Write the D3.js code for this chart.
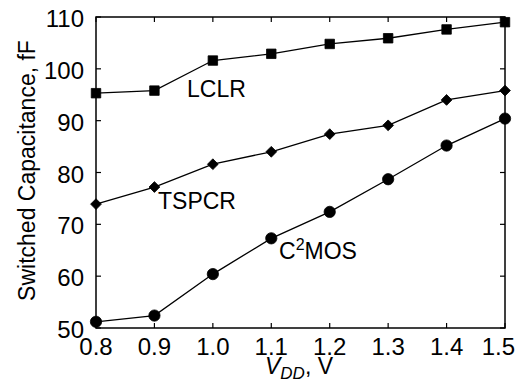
<!DOCTYPE html>
<html>
<head>
<meta charset="utf-8">
<script src="https://cdn.jsdelivr.net/npm/d3@7"></script>
<style>
  body { margin: 0; background: #fff; }
  svg text { font-family: "Liberation Sans", Arial, Helvetica, sans-serif; fill: #000; }
</style>
</head>
<body>
<div id="chart"></div>
<script>
// supply voltages (V)
const vdd = [0.8, 0.9, 1.0, 1.1, 1.2, 1.3, 1.4, 1.5];
// switched capacitance, fF
const lclr = [95.3, 95.8, 101.6, 102.9, 104.8, 105.9, 107.6, 109.0];
const tspcr = [73.9, 77.2, 81.6, 84.0, 87.4, 89.1, 94.0, 95.8];
const c2mos = [51.2, 52.4, 60.4, 67.3, 72.4, 78.7, 85.2, 90.4];
const xTicks = [0.8, 0.9, 1.0, 1.1, 1.2, 1.3, 1.4, 1.5];
const yTicks = [50, 60, 70, 80, 90, 100, 110];

const width = 520, height = 381;
const margin = {left: 96, right: 15, top: 17, bottom: 53};
const fontSize = 23;
const tickFont = 24;

const svg = d3.select("#chart").append("svg")
    .attr("width", width)
    .attr("height", height);

const x = d3.scaleLinear().domain([0.8, 1.5]).range([margin.left, width - margin.right]);
const y = d3.scaleLinear().domain([50, 110]).range([height - margin.bottom, margin.top]);

const x0 = x.range()[0], x1 = x.range()[1];
const y0 = y.range()[0], y1 = y.range()[1];
const tickLen = 5;

// inward ticks on all four sides
const ticks = svg.append("g").attr("stroke", "#000").attr("stroke-width", 1.2);
xTicks.forEach(t => {
    ticks.append("line").attr("x1", x(t)).attr("x2", x(t)).attr("y1", y0).attr("y2", y0 - tickLen);
    ticks.append("line").attr("x1", x(t)).attr("x2", x(t)).attr("y1", y1).attr("y2", y1 + tickLen);
});
yTicks.forEach(t => {
    ticks.append("line").attr("x1", x0).attr("x2", x0 + tickLen).attr("y1", y(t)).attr("y2", y(t));
    ticks.append("line").attr("x1", x1).attr("x2", x1 - tickLen).attr("y1", y(t)).attr("y2", y(t));
});

// frame
svg.append("rect")
    .attr("x", x0).attr("y", y1)
    .attr("width", x1 - x0).attr("height", y0 - y1)
    .attr("fill", "none").attr("stroke", "#000").attr("stroke-width", 1.5);

// tick labels (last one pulled in so it stays on the page)
const lastX = xTicks[xTicks.length - 1];
svg.append("g").selectAll("text").data(xTicks).join("text")
    .attr("x", d => d === lastX ? width - 5 : x(d)).attr("y", y0 + 27)
    .attr("text-anchor", d => d === lastX ? "end" : "middle")
    .attr("font-size", tickFont)
    .text(d => d.toFixed(1));

svg.append("g").selectAll("text").data(yTicks).join("text")
    .attr("x", x0 - 12).attr("y", d => y(d) + 10)
    .attr("text-anchor", "end")
    .attr("font-size", tickFont)
    .text(d => d);

// axis titles
svg.append("text")
    .attr("transform", `translate(35,${(y0 + y1) / 2 - 2}) rotate(-90)`)
    .attr("text-anchor", "middle")
    .attr("font-size", fontSize)
    .text("Switched Capacitance, fF");

const xt = svg.append("text")
    .attr("x", 265).attr("y", 374)
    .attr("font-size", fontSize);
xt.append("tspan").attr("font-style", "italic").text("V");
xt.append("tspan").attr("font-style", "italic").attr("font-size", 17).attr("dy", 5).text("DD");
xt.append("tspan").attr("dy", -5).text(", V");

// series
const series = [
    {name: "LCLR", values: lclr, marker: d3.symbolSquare, size: 90, rot: 0},
    {name: "TSPCR", values: tspcr, marker: d3.symbolSquare, size: 58, rot: 45},
    {name: "C2MOS", values: c2mos, marker: d3.symbolCircle, size: 100, rot: 0}
];

const line = d3.line().x((d, i) => x(vdd[i])).y(d => y(d));

series.forEach(s => {
    svg.append("path")
        .attr("d", line(s.values))
        .attr("fill", "none")
        .attr("stroke", "#000")
        .attr("stroke-width", 1.3);
    svg.append("g").selectAll("path").data(s.values).join("path")
        .attr("transform", (d, i) => `translate(${x(vdd[i])},${y(d)}) rotate(${s.rot})`)
        .attr("d", d3.symbol().type(s.marker).size(s.size)())
        .attr("fill", "#000")
        .attr("stroke", "#000")
        .attr("stroke-width", 0.8);
});

// series labels
svg.append("text").attr("x", 187).attr("y", 97).attr("font-size", fontSize).text("LCLR");
svg.append("text").attr("x", 158).attr("y", 209).attr("font-size", fontSize).text("TSPCR");
const cl = svg.append("text").attr("x", 279).attr("y", 259).attr("font-size", fontSize);
cl.append("tspan").text("C");
cl.append("tspan").attr("font-size", 16).attr("dy", -9).text("2");
cl.append("tspan").attr("dy", 9).text("MOS");
</script>
</body>
</html>
